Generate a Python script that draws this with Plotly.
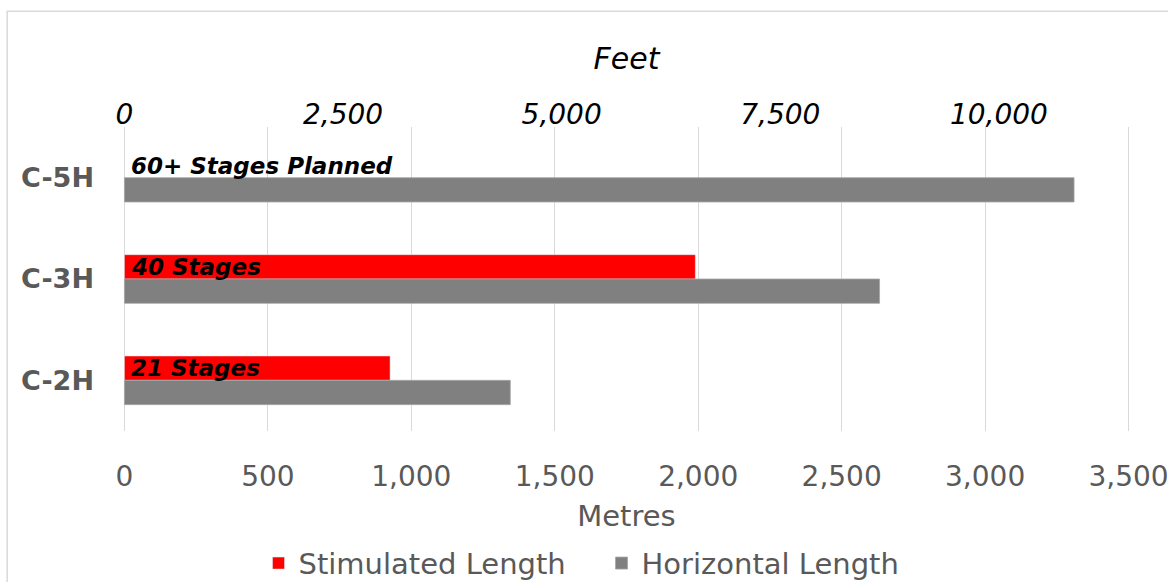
import plotly.graph_objects as go

wells = ["C-5H", "C-3H", "C-2H"]
stimulated_m = [None, 1990, 926]
horizontal_m = [3310, 2632, 1345]
stage_labels = ["60+ Stages Planned", "40 Stages", "21 Stages"]
metre_ticks = [0, 500, 1000, 1500, 2000, 2500, 3000, 3500]
feet_ticks = [0, 2500, 5000, 7500, 10000]
FT_PER_M = 3.28084
X_RANGE = [-5, 3505]

FONT = "DejaVu Sans"
GREY_TXT = "#595959"

fig = go.Figure()
fig.add_trace(go.Bar(
    y=wells, x=stimulated_m, orientation="h", name="Stimulated Length",
    marker=dict(color="#FF0000"), xaxis="x", yaxis="y"))
fig.add_trace(go.Bar(
    y=wells, x=horizontal_m, orientation="h", name="Horizontal Length",
    marker=dict(color="#808080", line=dict(color="#A6A6A6", width=0.8)),
    xaxis="x", yaxis="y"))
# invisible trace to activate the top feet axis
fig.add_trace(go.Scatter(x=[X_RANGE[0] * FT_PER_M, X_RANGE[1] * FT_PER_M],
                         y=["C-5H", "C-5H"], mode="markers",
                         marker=dict(opacity=0), xaxis="x2", yaxis="y",
                         showlegend=False, hoverinfo="skip"))

for w, lab in zip(wells, stage_labels):
    fig.add_annotation(x=0, y=w, xref="x", yref="y", text=lab, showarrow=False,
                       xanchor="left", yanchor="middle", xshift=5, yshift=12,
                       font=dict(family=FONT, size=23, color="#000000",
                                 weight="bold", style="italic"))

fig.update_layout(
    width=1168, height=582,
    margin=dict(l=123, r=38, t=127, b=151, autoexpand=False),
    paper_bgcolor="white", plot_bgcolor="white",
    barmode="group", bargap=0.52, bargroupgap=0,
    font=dict(family=FONT, color=GREY_TXT),
    xaxis=dict(range=X_RANGE, tickvals=metre_ticks,
               ticktext=[f"{v:,}" for v in metre_ticks], automargin=False,
               showgrid=True, gridcolor="#D9D9D9", gridwidth=1.3,
               zeroline=False, showline=False, ticks="",
               ticklabelstandoff=26, ticklabeloverflow="allow",
               tickfont=dict(family=FONT, size=28, color=GREY_TXT),
               title=dict(text="Metres", standoff=13,
                          font=dict(family=FONT, size=29, color=GREY_TXT))),
    xaxis2=dict(range=[X_RANGE[0] * FT_PER_M, X_RANGE[1] * FT_PER_M],
                overlaying="x", side="top",
                tickvals=feet_ticks, ticktext=[f"{v:,}" for v in feet_ticks],
                automargin=False, ticklabeloverflow="allow",
                showgrid=False, zeroline=False, showline=False, ticks="",
                ticklabelstandoff=-4,
                tickfont=dict(family=FONT, size=28, color="#000000", style="italic"),
                title=dict(text="Feet", standoff=19,
                           font=dict(family=FONT, size=30, color="#000000", style="italic"))),
    yaxis=dict(categoryorder="array", categoryarray=wells, autorange="reversed",
               automargin=False,
               showgrid=False, zeroline=False, showline=False, ticks="",
               ticklabelstandoff=28,
               tickfont=dict(family=FONT, size=27, color=GREY_TXT, weight="bold")),
    legend=dict(orientation="h", xref="container", x=0.515, xanchor="center",
                y=-0.435, yanchor="middle",
                font=dict(family=FONT, size=29, color=GREY_TXT),
                itemwidth=30, entrywidth=298, entrywidthmode="pixels",
                traceorder="normal"),
    showlegend=True,
)
fig.add_shape(type="rect", xref="paper", yref="paper", x0=-0.115, x1=1.2,
              y0=-0.8, y1=1.381, line=dict(color="#D9D9D9", width=1.5),
              fillcolor="rgba(0,0,0,0)", layer="below")

fig.write_html("out.html", config={"displayModeBar": False},
               post_script="document.body.style.margin='0';")
